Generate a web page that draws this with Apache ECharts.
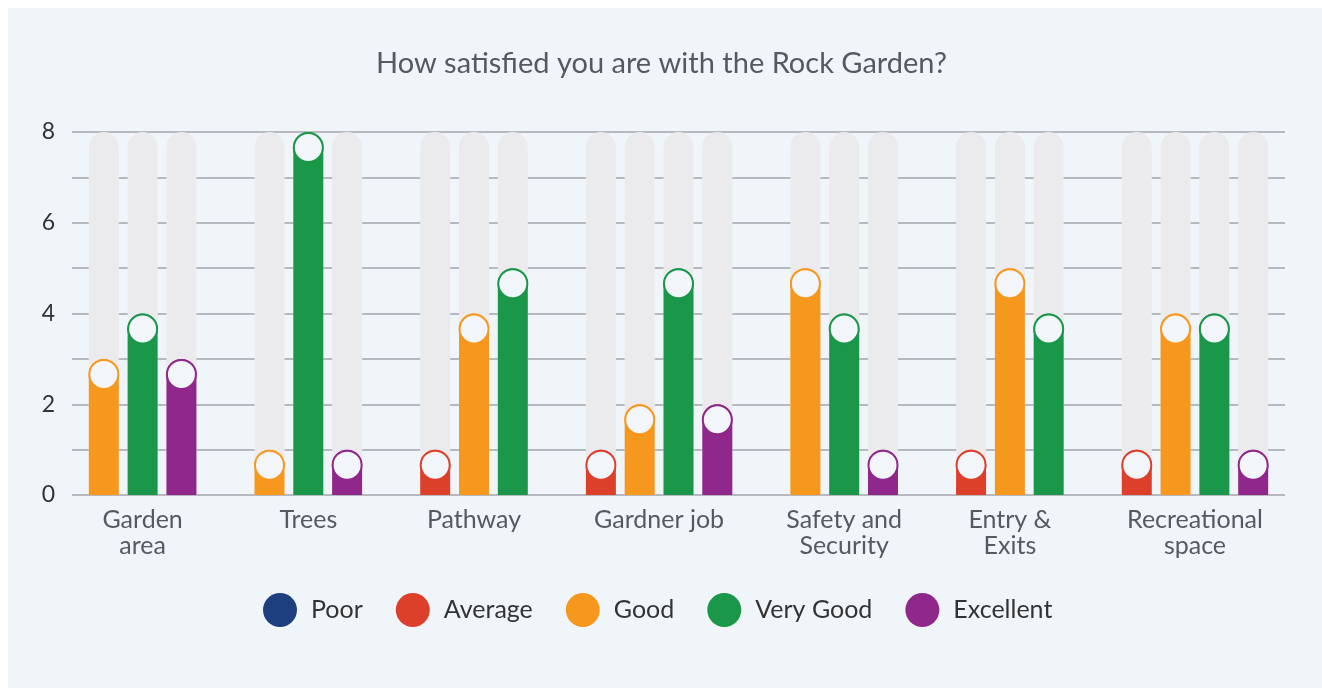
<!DOCTYPE html>
<html>
<head>
<meta charset="utf-8">
<script src="https://cdn.jsdelivr.net/npm/echarts@6/dist/echarts.min.js"></script>
<style>
  html, body { margin: 0; background: #ffffff; }
  #main { position: absolute; left: 8px; top: 8px; width: 1314px; height: 680px; background: #f0f5fa; }
</style>
</head>
<body>
<div id="main"></div>
<script>
var categories = ['Garden\narea', 'Trees', 'Pathway', 'Gardner job', 'Safety and\nSecurity', 'Entry &\nExits', 'Recreational\nspace'];
var ratings = ['Poor', 'Average', 'Good', 'Very Good', 'Excellent'];
var colors = ['#1d3f7e', '#dc402b', '#f7981e', '#1a9748', '#90278b'];
var poor      = [0, 0, 0, 0, 0, 0, 0];
var average   = [0, 0, 1, 1, 0, 1, 1];
var good      = [3, 1, 4, 2, 5, 5, 4];
var veryGood  = [4, 8, 5, 5, 4, 4, 4];
var excellent = [3, 1, 0, 2, 1, 0, 1];
var yMax = 8;

var values = [poor, average, good, veryGood, excellent];
var GAP = 1.27;   // extra space between groups, in bar slots
var PAD = 0.82;

// every non-zero answer gets its own slot, groups are packed one after another
var slots = [];          // [pos, value, ratingIndex]
var centers = [];
var pos = 0;
categories.forEach(function (c, i) {
    var first = pos;
    values.forEach(function (arr, r) {
        if (arr[i] > 0) {
            slots.push([pos, arr[i], r]);
            pos += 1;
        }
    });
    centers.push((first + pos - 1) / 2);
    pos += GAP;
});
var lastPos = slots[slots.length - 1][0];

var font = 'Lato, "Source Sans Pro", "Noto Sans", sans-serif';

var series = [{
    name: 'bg',
    type: 'bar',
    barWidth: 30,
    barGap: '-100%',
    silent: true,
    itemStyle: { color: '#ebebee', borderRadius: [15, 15, 0, 0] },
    data: slots.map(function (s) { return [s[0], yMax]; })
}];
ratings.forEach(function (name, r) {
    var d = slots.filter(function (s) { return s[2] === r; })
                 .map(function (s) { return [s[0], s[1]]; });
    series.push({
        name: name,
        type: 'bar',
        barWidth: 30,
        barGap: '-100%',
        itemStyle: { color: colors[r], borderRadius: [15, 15, 0, 0] },
        data: d
    });
    series.push({
        name: name,
        type: 'scatter',
        symbol: 'circle',
        symbolSize: 29,
        symbolOffset: [0, 15.5],
        silent: true,
        z: 5,
        itemStyle: { color: '#f2f6fa', borderColor: colors[r], borderWidth: 2, opacity: 1 },
        data: d
    });
});

var myChart = echarts.init(document.getElementById('main'));
var option = {
    animation: false,
    title: {
        text: 'How satisfied you are with the Rock Garden?',
        left: 363,
        top: 36,
        textStyle: { fontFamily: font, fontSize: 29, fontWeight: 'normal', color: '#555a60' }
    },
    legend: {
        data: ratings.map(function (n, r) { return { name: n, itemStyle: { color: colors[r] } }; }),
        icon: 'circle',
        itemWidth: 34,
        itemHeight: 34,
        itemGap: 33,
        left: 250,
        top: 580,
        textStyle: { fontFamily: font, fontSize: 25, color: '#333333', padding: [0, 0, 0, 9] }
    },
    grid: { left: 64, right: 37, top: 124, bottom: 193 },
    xAxis: {
        type: 'value',
        min: -PAD,
        max: lastPos + PAD,
        axisLine: { show: false },
        axisTick: { show: false },
        splitLine: { show: false },
        axisLabel: {
            customValues: centers,
            margin: 12,
            fontFamily: font,
            fontSize: 25,
            lineHeight: 26,
            color: '#555a60',
            formatter: function (v) {
                for (var i = 0; i < centers.length; i++) {
                    if (Math.abs(centers[i] - v) < 1e-6) return categories[i];
                }
                return '';
            }
        }
    },
    yAxis: {
        type: 'value',
        min: 0,
        max: yMax,
        interval: 1,
        axisLine: { show: false },
        axisTick: { show: false },
        splitLine: { lineStyle: { color: '#a3a6ac', width: 1.5 } },
        axisLabel: {
            margin: 17,
            fontFamily: font,
            fontSize: 23,
            color: '#333333',
            formatter: function (v) { return v % 2 === 0 ? String(v) : ''; }
        }
    },
    series: series
};
myChart.setOption(option);
</script>
</body>
</html>
